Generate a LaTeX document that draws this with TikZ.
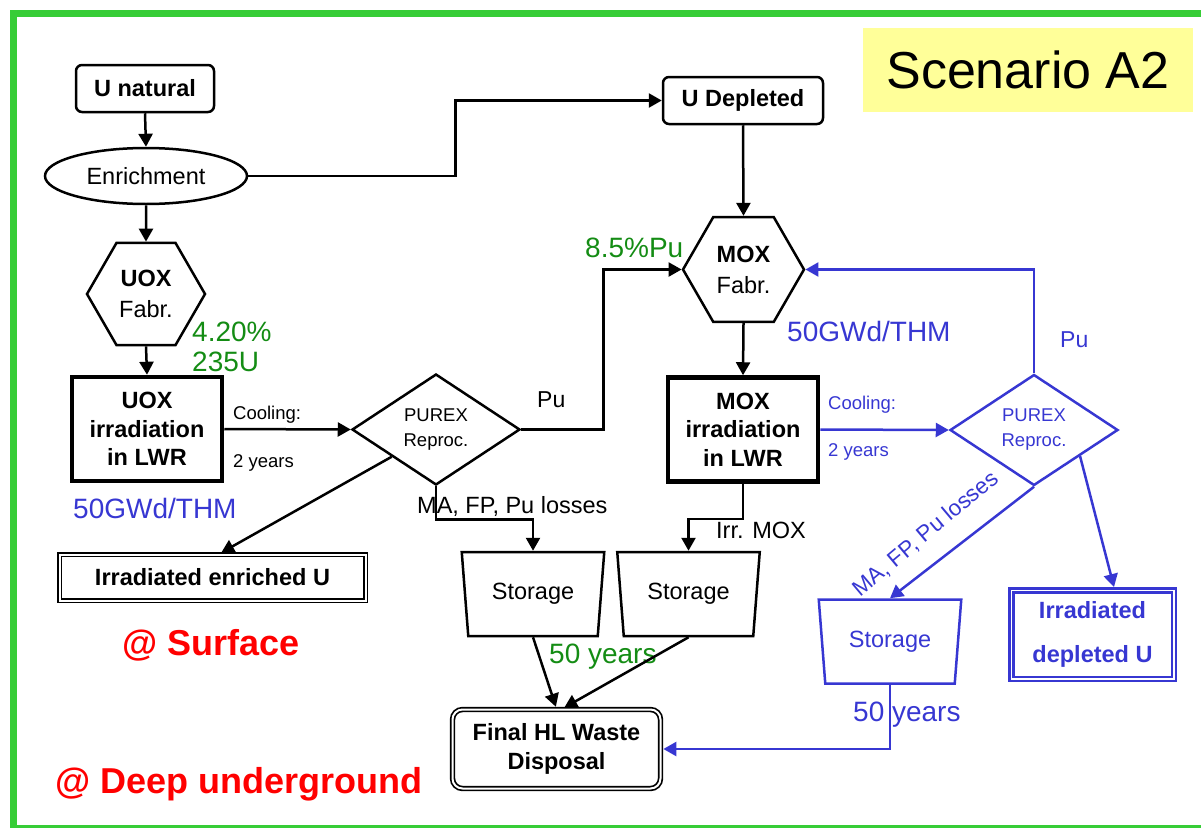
\documentclass[tikz,border=0pt]{standalone}
\usepackage{fontspec}
\setmainfont{Liberation Sans}
\usetikzlibrary{arrows.meta,shapes.geometric,calc}
\definecolor{fgreen}{RGB}{20,140,20}
\definecolor{fblue}{RGB}{55,55,210}
\definecolor{fred}{RGB}{255,0,0}
\definecolor{framecol}{RGB}{55,205,55}
\definecolor{titlebg}{RGB}{255,255,153}
\begin{document}
\begin{tikzpicture}[x=1pt,y=-1pt,
  every node/.style={inner sep=0pt},
  ln/.style={line width=2.5pt},
  arr/.style={line width=2.5pt,-{Triangle[length=13pt,width=14pt]}},
  fbig/.style={font=\fontsize{23.5}{28.5}\selectfont},
  fbigb/.style={font=\fontsize{23.5}{28.5}\selectfont\bfseries},
  fsmall/.style={font=\fontsize{18.5}{25}\selectfont},
  fpu/.style={font=\fontsize{23}{27}\selectfont},
  flab/.style={font=\fontsize{28}{30}\selectfont},
  fred36/.style={font=\fontsize{36}{40}\selectfont\bfseries, text=fred},
  rbox/.style={draw, line width=2.5pt, rounded corners=6pt, fbigb},
  hex/.style={draw, ln, regular polygon, regular polygon sides=6, align=center, font=\fontsize{23.5}{31}\selectfont},
  irr/.style={draw, line width=4.5pt, minimum width=150pt, minimum height=104pt, align=center, fbigb},
  dia/.style={draw, ln, diamond, aspect=1.5, minimum width=168pt, minimum height=111pt, align=center, fsmall},
  sto/.style={draw, ln, trapezium, trapezium left angle=101, trapezium right angle=101, trapezium stretches=true, minimum width=143pt, minimum height=84pt, fbig},
  dbl/.style={draw, line width=1.7pt, double, double distance=2pt}
]
\useasboundingbox (0,0) rectangle (1201,827);
\draw[framecol, line width=7pt] (13.5,13.5) rectangle (1215,828);

\node[fill=titlebg, minimum width=330pt, minimum height=84pt, font=\fontsize{52}{60}\selectfont] (title) at (1028,70) {Scenario A2};

% main nodes
\node[rbox, minimum width=138pt, minimum height=47pt] (unat) at (145,88.5) {U natural};
\node[rbox, minimum width=160pt, minimum height=47pt] (udep) at (743,100.5) {U Depleted};
\node[draw, ellipse, ln, minimum width=202pt, minimum height=56pt, fbig] (enr) at (146,176) {Enrichment};
\node[hex, minimum size=118pt] (uoxf) at (146,294) {\textbf{UOX}\\Fabr.};
\node[hex, minimum size=121pt] (moxf) at (743.5,269.5) {\textbf{MOX}\\Fabr.};
\node[irr] (uoxirr) at (147,429) {UOX\\irradiation\\in LWR};
\node[irr] (moxirr) at (743,429.5) {MOX\\irradiation\\in LWR};
\node[dia] (p1) at (436,429.5) {PUREX\\Reproc.};
\node[dia, color=fblue] (p2) at (1034,430) {PUREX\\Reproc.};
\node[sto] (st1) at (533,594) {Storage};
\node[sto] (st2) at (688.5,594) {Storage};
\node[sto, color=fblue] (st3) at (890,641.5) {Storage};
\node[dbl, minimum width=306pt, minimum height=46pt, fbigb] (irrU) at (212.5,577.5) {Irradiated enriched U};
\node[dbl, rounded corners=10pt, minimum width=208pt, minimum height=79pt, align=center, fbigb] (final) at (556.5,749) {Final HL Waste\\Disposal};
\node[draw=fblue, text=fblue, line width=2.5pt, double, double distance=1.5pt, minimum width=162.5pt, minimum height=88.5pt, align=center, font=\fontsize{23.5}{44}\selectfont\bfseries] (irrD) at (1092.5,634.5) {Irradiated\\depleted U};

% labels
\node[fsmall, anchor=base west] (c1) at (233,419) {Cooling:};
\node[fsmall, anchor=base west] (y1) at (233,467) {2 years};
\node[fpu, anchor=base west] (pu1) at (537,407) {Pu};
\node[flab, text=fgreen, anchor=base west] (pct) at (585,257) {8.5\%Pu};
\node[flab, text=fgreen, anchor=north west, align=left] (enrpct) at (192,322) {4.20\%\\235U};
\node[flab, text=fblue, anchor=base west] (gwd1) at (73,518) {50GWd/THM};
\node[flab, text=fblue, anchor=base west] (gwd2) at (787,341) {50GWd/THM};
\node[fbig, anchor=base west] (ma1) at (417,513) {MA, FP, Pu losses};
\node[fbig, anchor=base west] (irrmox) at (716,538) {Irr. MOX};
\node[flab, text=fgreen, anchor=base west] (y50a) at (549,663) {50 years};
\node[fsmall, text=fblue, anchor=base west] (c2) at (828,409) {Cooling:};
\node[fsmall, text=fblue, anchor=base west] (y2) at (828,456) {2 years};
\node[fpu, text=fblue, anchor=base west] (pu2) at (1060,347) {Pu};
\node[flab, text=fblue, anchor=base west] (y50b) at (853,721) {50 years};
\node[font=\fontsize{22.5}{26}\selectfont, text=fblue, rotate=40, anchor=base west] (ma2) at (860,598) {MA, FP, Pu losses};
\node[fred36, anchor=base west] (surf) at (122,655) {@ Surface};
\node[fred36, anchor=base west] (deep) at (55,793) {@ Deep underground};

% connectors black
\draw[arr] (unat.south) -- (enr.north);
\draw[arr] (enr.east) -- ++(207,0) |- (udep.west);
\draw[arr] (enr.south) -- (uoxf.north);
\draw[arr] (uoxf.south) -- (uoxirr.north);
\draw[arr] (udep.south) -- (moxf.north);
\draw[arr] (moxf.south) -- (moxirr.north);
\draw[arr] (uoxirr.east) -- (p1.west);
\draw[arr] (p1.east) -- ++(82,0) |- (moxf.west);
\draw[arr, shorten >=2pt] ($(p1.west)!0.48!(p1.south)$) -- ($(irrU.north)+(7,0)$);
\draw[arr] (p1.south) -- ++(0,33) -| (st1.north);
\draw[arr] (moxirr.south) -- ++(0,35) -| (st2.north);
\draw[arr, shorten >=2pt] (st1.south) -- (final.north);
\draw[arr, shorten >=2pt] (st2.south) -- ($(final.north)+(6,0)$);
% connectors blue
\draw[arr, fblue] (moxirr.east) -- (p2.west);
\draw[arr, fblue] (p2.north) |- (moxf.east);
\draw[arr, fblue] (p2.south) -- (st3.north);
\draw[arr, fblue, shorten >=2pt] ($(p2.east)!0.46!(p2.south)$) -- ($(irrD.north)+(22,0)$);
\draw[arr, fblue, shorten >=2pt] (st3.south) |- (final.east);
\end{tikzpicture}
\end{document}
